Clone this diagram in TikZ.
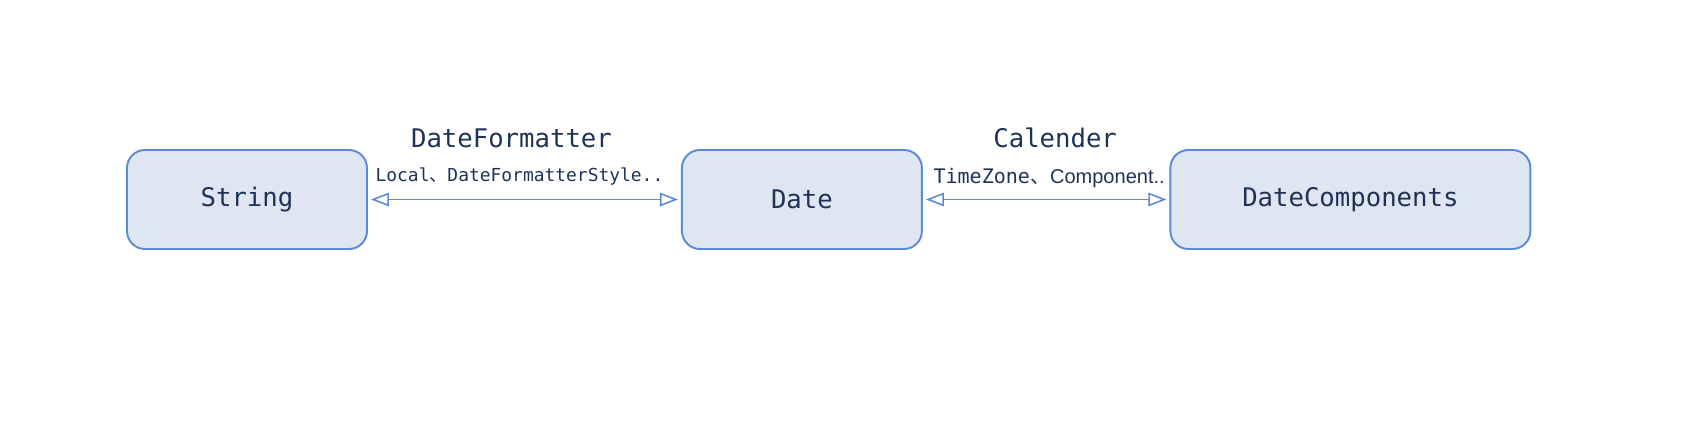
\documentclass[tikz,border=0pt]{standalone}
\usepackage{fontspec}
\setmonofont{DejaVu Sans Mono}
\newfontfamily\cjk{Noto Sans CJK SC}
\newfontfamily\hintsans{Liberation Sans}
\usetikzlibrary{positioning, arrows.meta}
\definecolor{boxfill}{HTML}{DFE6F1}
\definecolor{boxline}{HTML}{5B8BD6}
\definecolor{ink}{HTML}{1F3356}

\begin{document}
\begin{tikzpicture}[node distance=6.26cm,
    type/.style={draw=boxline, fill=boxfill, line width=1.1pt, rounded corners=0.36cm,
      minimum width=4.8cm, minimum height=1.98cm, inner sep=0pt, text=ink,
      font=\ttfamily\fontsize{14.6}{17}\selectfont},
    link/.style={draw=boxline, line width=0.9pt,
      {Triangle[open, length=0.36cm, width=0.27cm]}-{Triangle[open, length=0.36cm, width=0.27cm]},
      shorten <=0.06cm, shorten >=0.06cm},
    tool/.style={text=ink, inner sep=0pt, font=\ttfamily\fontsize{14.6}{17}\selectfont},
    hint/.style={text=ink, inner sep=0pt}]
  \useasboundingbox (0,0) rectangle (33.8,-8.96);
  \node[type] (str) at (4.94,-3.99) {String};
  \node[type, right=of str] (date) {Date};
  \node[type, minimum width=7.2cm, right=4.93cm of date] (comps) {DateComponents};
  \path (str) edge[link]
      node[tool, above=1.02cm, xshift=-0.26cm] {DateFormatter}
      node[hint, above=0.27cm, xshift=-0.1cm, font=\ttfamily\fontsize{10.2}{12}\selectfont]
        {Local{\cjk 、}DateFormatterStyle..} (date)
    (date) edge[link]
      node[tool, above=1.02cm, xshift=0.18cm] {Calender}
      node[hint, above=0.23cm, xshift=0.06cm, font=\ttfamily\fontsize{11.4}{13}\selectfont]
        {TimeZone{\cjk 、}{\hintsans Component..}} (comps);
\end{tikzpicture}
\end{document}
